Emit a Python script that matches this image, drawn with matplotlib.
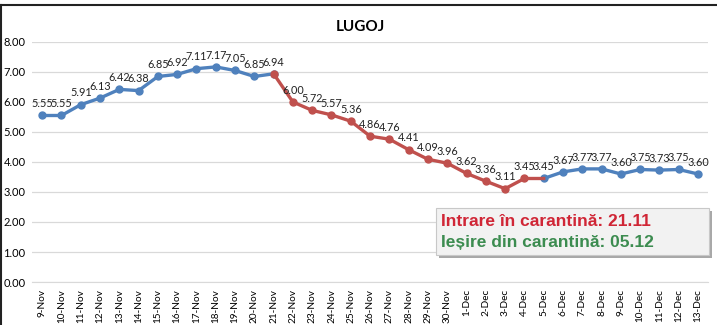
import matplotlib
matplotlib.use("Agg")
import matplotlib.pyplot as plt
import numpy as np
from matplotlib.patches import Rectangle
from matplotlib.lines import Line2D

dates = ["9-Nov", "10-Nov", "11-Nov", "12-Nov", "13-Nov", "14-Nov", "15-Nov", "16-Nov",
         "17-Nov", "18-Nov", "19-Nov", "20-Nov", "21-Nov", "22-Nov", "23-Nov", "24-Nov",
         "25-Nov", "26-Nov", "27-Nov", "28-Nov", "29-Nov", "30-Nov", "1-Dec", "2-Dec",
         "3-Dec", "4-Dec", "5-Dec", "6-Dec", "7-Dec", "8-Dec", "9-Dec", "10-Dec",
         "11-Dec", "12-Dec", "13-Dec"]
values = [5.55, 5.55, 5.91, 6.13, 6.42, 6.38, 6.85, 6.92, 7.11, 7.17, 7.05, 6.85, 6.94,
          6.00, 5.72, 5.57, 5.36, 4.86, 4.76, 4.41, 4.09, 3.96, 3.62, 3.36, 3.11, 3.45,
          3.45, 3.67, 3.77, 3.77, 3.60, 3.75, 3.73, 3.75, 3.60]
quarantine_start = "21-Nov"
quarantine_end = "5-Dec"
yticks = [0, 1, 2, 3, 4, 5, 6, 7, 8]

BLUE = "#4F81BD"
RED = "#C0504D"

fig = plt.figure(figsize=(7.17, 3.25), dpi=100)
ax = fig.add_axes([0.0453, 0.1323, 0.9417, 0.7385])

x = np.arange(len(values))
v = np.array(values)
i0 = dates.index(quarantine_start)
i1 = dates.index(quarantine_end)

blue = v.copy()
blue[i0 + 1:i1] = np.nan

ax.plot(x, blue, color=BLUE, lw=2.4, marker="o", ms=5, zorder=3)
ax.plot(x[i0:i1 + 1], v[i0:i1 + 1], color=RED, lw=2.4, zorder=4)
ax.plot(x[i0:i1], v[i0:i1], ls="none", color=RED, marker="o", ms=5, zorder=5)

for xi, yi in zip(x, v):
    ax.annotate(f"{yi:.2f}", (xi, yi), xytext=(0, 4.5), textcoords="offset points",
                ha="center", va="bottom", fontsize=7.8, family="Lato", color="#222222",
                zorder=6)

ax.set_xlim(-0.5, len(values) - 0.5)
ax.set_ylim(0, 8)
ax.set_yticks(yticks)
ax.set_yticklabels([f"{t:.2f}" for t in yticks], family="Lato", fontsize=8)
ax.set_xticks(x)
ax.set_xticklabels(dates, rotation=90, family="Lato", fontsize=7.2)
ax.tick_params(axis="both", length=0)
ax.tick_params(axis="x", pad=5)
ax.tick_params(axis="y", pad=21)
for lab in ax.get_yticklabels():
    lab.set_horizontalalignment("left")
ax.grid(axis="y", color="#D9D9D9", lw=0.9)
ax.set_axisbelow(True)
for s in ["top", "right", "left"]:
    ax.spines[s].set_visible(False)
ax.spines["bottom"].set_color("#D9D9D9")

fig.text(0.503, 0.917, "LUGOJ", ha="center", va="center", fontsize=11,
         fontweight="bold", family="Lato")

# border lines
fig.add_artist(Line2D([0, 1], [1 - 5 / 325, 1 - 5 / 325], transform=fig.transFigure,
                      color="#222222", lw=1.5))
fig.add_artist(Line2D([1 / 717, 1 / 717], [0, 1 - 5 / 325], transform=fig.transFigure,
                      color="#222222", lw=1.5))

# annotation box
bx, by, bw, bh = 436 / 717, 1 - 255 / 325, 273 / 717, 47 / 325
fig.add_artist(Rectangle((bx + 3 / 717, by - 3 / 325), bw, bh, transform=fig.transFigure,
                         facecolor="#A8A8A8", edgecolor="none", zorder=7))
fig.add_artist(Rectangle((bx, by), bw, bh, transform=fig.transFigure,
                         facecolor="#F2F2F2", edgecolor="#C8C8C8", lw=0.8, zorder=8))
fig.text(441 / 717, 1 - 222 / 325, "Intrare în carantină: 21.11", ha="left", va="center",
         fontsize=12.5, fontweight="bold", family="Liberation Sans", color="#D02636", zorder=9)
fig.text(441 / 717, 1 - 243 / 325, "Ieșire din carantină: 05.12", ha="left", va="center",
         fontsize=12.5, fontweight="bold", family="Liberation Sans", color="#3C8C50", zorder=9)

fig.savefig("out.png", dpi=100)
